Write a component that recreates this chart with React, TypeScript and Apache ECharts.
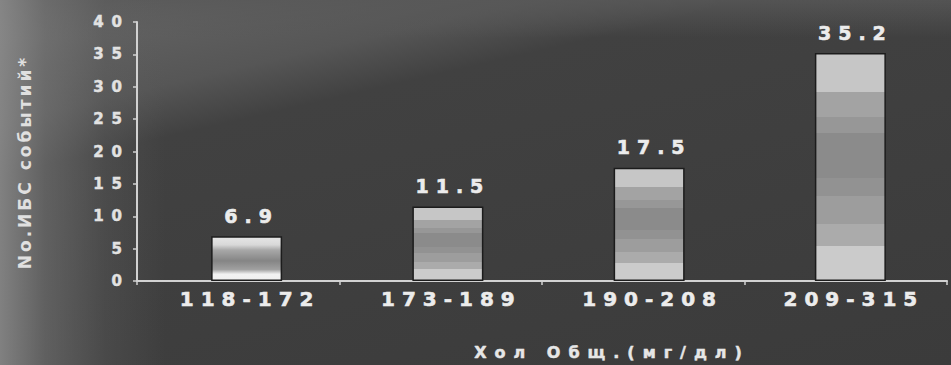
import React, { useEffect, useRef } from "react";
import * as echarts from "echarts";

const categories = ["118-172", "173-189", "190-208", "209-315"];
const values = [6.9, 11.5, 17.5, 35.2];
const yMin = 0;
const yMax = 40;
const yStep = 5;
const yAxisName = "No.ИБС событий*";
const xAxisName = "Хол Общ.(мг/дл)";

const bandStops = (bands: [number, string][]) => {
  const stops: { offset: number; color: string }[] = [];
  let prev = 0;
  bands.forEach(([end, color]) => {
    stops.push({ offset: prev, color });
    stops.push({ offset: end, color });
    prev = end;
  });
  return new echarts.graphic.LinearGradient(0, 0, 0, 1, stops);
};

const bandedFill = () =>
  bandStops([
    [0.17, "#c6c6c6"],
    [0.28, "#a3a3a3"],
    [0.35, "#979797"],
    [0.55, "#8b8b8b"],
    [0.63, "#929292"],
    [0.75, "#9d9d9d"],
    [0.85, "#ababab"],
    [1, "#cbcbcb"],
  ]);

const firstFill = () =>
  new echarts.graphic.LinearGradient(0, 0, 0, 1, [
    { offset: 0, color: "#e6e6e6" },
    { offset: 0.18, color: "#d8d8d8" },
    { offset: 0.3, color: "#a8a8a8" },
    { offset: 0.55, color: "#858585" },
    { offset: 0.75, color: "#a0a0a0" },
    { offset: 0.86, color: "#f2f2f2" },
    { offset: 1, color: "#f0f0f0" },
  ]);

const css = `
#chart-root text[style*="15px"] { letter-spacing: 8px; }
#chart-root text[style*="20px"] { letter-spacing: 7px; }
#chart-root text[style*="19px"] { letter-spacing: 7px; }
#chart-root text[style*="16px"] { letter-spacing: 8px; }
#chart-root text[style*="17px"] { letter-spacing: 3px; }
`;

export default function App() {
  const ref = useRef<HTMLDivElement>(null);

  useEffect(() => {
    if (!ref.current) return;
    const chart = echarts.init(ref.current, null, { renderer: "svg" });
    const sans = "'DejaVu Sans', sans-serif";
    const lineColor = "#d2d2d2";
    const txt = "#ececec";
    chart.setOption({
      animation: false,
      backgroundColor: "transparent",
      grid: [
        { left: 137, top: 22, width: 810, height: 259 },
        { left: 146, top: 22, width: 816, height: 259 },
      ],
      xAxis: [
        {
          type: "category",
          gridIndex: 0,
          data: categories,
          axisLine: { show: true, lineStyle: { color: lineColor, width: 2 } },
          axisTick: { show: true, length: 4, lineStyle: { color: lineColor, width: 1.5 } },
          axisLabel: { show: false },
        },
        {
          type: "category",
          gridIndex: 1,
          data: categories,
          axisLine: { show: false },
          axisTick: { show: false },
          axisLabel: {
            color: txt,
            fontFamily: sans,
            fontWeight: "bold",
            fontSize: 20,
            margin: 8,
            padding: [0, 0, 0, 7],
            textBorderColor: txt,
            textBorderWidth: 0.6,
          },
        },
      ],
      yAxis: [
        {
          type: "value",
          gridIndex: 0,
          min: yMin,
          max: yMax,
          interval: yStep,
          axisLine: { show: true, lineStyle: { color: lineColor, width: 2 } },
          axisTick: { show: true, length: 4, lineStyle: { color: lineColor, width: 1.5 } },
          splitLine: { show: false },
          axisLabel: {
            color: "#e2e2e2",
            fontFamily: sans,
            fontWeight: "bold",
            fontSize: 15,
            margin: 7,
            textBorderColor: "#e2e2e2",
            textBorderWidth: 0.5,
          },
        },
        { type: "value", gridIndex: 1, min: yMin, max: yMax, interval: yStep, show: false },
      ],
      series: [
        {
          type: "bar",
          xAxisIndex: 1,
          yAxisIndex: 1,
          barWidth: 71,
          data: values.map((v, i) => ({
            value: v,
            itemStyle: { color: i === 0 ? firstFill() : bandedFill() },
          })),
          itemStyle: { borderColor: "#1c1c1c", borderWidth: 1.5 },
          label: {
            show: true,
            position: "top",
            distance: 11,
            color: txt,
            fontFamily: sans,
            fontWeight: "bold",
            fontSize: 19,
            padding: [0, 0, 0, 10],
            textBorderColor: txt,
            textBorderWidth: 0.6,
          },
        },
      ],
      graphic: [
        {
          type: "text",
          x: 612,
          y: 352,
          style: {
            text: xAxisName,
            fill: "#e6e6e6",
            font: `bold 16px ${sans}`,
            align: "center",
            verticalAlign: "middle",
            stroke: "#e6e6e6",
            lineWidth: 0.5,
          },
        },
        {
          type: "text",
          x: 25,
          y: 162,
          rotation: Math.PI / 2,
          style: {
            text: yAxisName,
            fill: "#e0e0e0",
            font: `bold 17px ${sans}`,
            align: "center",
            verticalAlign: "middle",
          },
        },
      ],
    });
    return () => chart.dispose();
  }, []);

  return (
    <>
      <style>{css}</style>
      <div
        id="chart-root"
        ref={ref}
        style={{
          position: "fixed",
          left: 0,
          top: 0,
          width: 951,
          height: 365,
          background: [
            "linear-gradient(to right, rgba(140,140,140,0.85) 0px, rgba(118,118,118,0.6) 45px, rgba(95,95,95,0.35) 105px, rgba(70,70,70,0) 165px)",
            "linear-gradient(to bottom, rgba(88,88,88,0.8) 0px, rgba(80,80,80,0) 38px)",
            "linear-gradient(167deg, #6c6c6c 0%, #5d5d5d 13%, #565656 21%, #414141 30%, #3b3b3b 100%)",
          ].join(","),
        }}
      />
    </>
  );
}
